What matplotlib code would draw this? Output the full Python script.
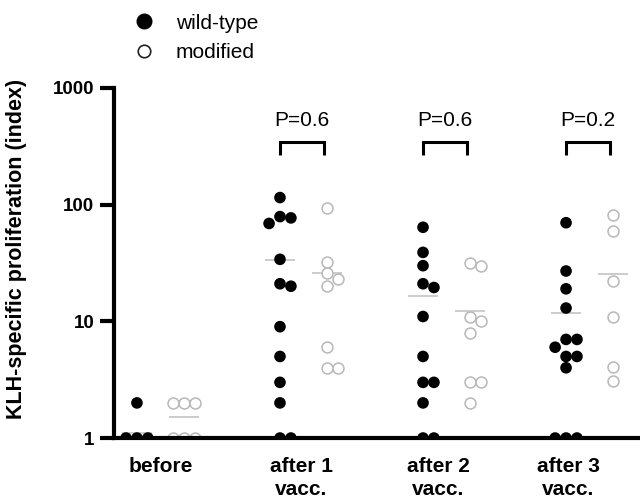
import numpy as np
import matplotlib
matplotlib.use("Agg")
import matplotlib.pyplot as plt
from matplotlib.lines import Line2D

plt.rcParams['font.family'] = ['Liberation Sans', 'DejaVu Sans']

# Data
groups = ['before', 'after 1\nvacc.', 'after 2\nvacc.', 'after 3\nvacc.']
wild_type = [
    [2, 1, 1, 1],
    [115, 79, 69, 77, 34, 20, 21, 9, 5, 3, 2, 1, 1],
    [64, 39, 30, 19.5, 21, 11, 5, 3, 3, 2, 1, 1],
    [70, 27, 19, 13, 7, 7, 6, 5, 5, 4, 1, 1, 1],
]
modified = [
    [2, 2, 2, 1, 1, 1],
    [94, 32, 23, 26, 20, 6, 4, 4],
    [30, 31.5, 10, 11, 8, 3, 3, 2],
    [82, 59, 22, 11, 4.1, 3.1],
]
wt_means = [1.1, 33.5, 16.5, 11.7]
mod_means = [1.5, 25.8, 12.3, 25.3]
p_values = [None, 'P=0.6', 'P=0.6', 'P=0.2']

fig = plt.figure(figsize=(6.4, 5.01), dpi=100)
ax = fig.add_axes([0.178, 0.1257, 0.822, 0.6987])
ax.set_yscale('log')
ax.set_ylim(1, 1000)
ax.set_xlim(-0.161, 3.517)

mod_shift = 0.33
grey = '#b8b8b8'
dot_px = 11.5


def swarm(vals, xc):
    # simple beeswarm in pixel space
    vals = np.asarray(vals, dtype=float)
    pts = ax.transData.transform(np.column_stack([np.full(len(vals), xc), vals]))
    ys = pts[:, 1]
    ppu = ax.transData.transform((1, 1))[0] - ax.transData.transform((0, 1))[0]
    placed = []
    out = np.zeros(len(vals))
    for idx in np.argsort(-vals, kind='stable'):
        py = ys[idx]
        for k in [0, 1, -1, 2, -2, 3, -3, 4, -4]:
            px = k * dot_px * 0.95
            if all((px - qx) ** 2 + (py - qy) ** 2 >= (0.9 * dot_px) ** 2 for qx, qy in placed):
                break
        placed.append((px, py))
        out[idx] = px / ppu
    return xc + out


for i in range(len(groups)):
    xw = i
    xm = i + mod_shift
    ax.hlines(wt_means[i], xw - 0.105, xw + 0.105, color='#c8c8c8', lw=1.3, zorder=1)
    ax.hlines(mod_means[i], xm - 0.105, xm + 0.105, color='#c8c8c8', lw=1.3, zorder=1)
    ax.scatter(swarm(wild_type[i], xw), wild_type[i], s=70, color='black',
               edgecolors='none', zorder=3)
    ax.scatter(swarm(modified[i], xm), modified[i], s=62, facecolors='white',
               edgecolors=grey, linewidths=1.1, zorder=3)
    if p_values[i]:
        ax.plot([xw, xw, xm - 0.02, xm - 0.02], [266, 346, 346, 266], color='black',
                lw=2.2, solid_capstyle='butt', solid_joinstyle='miter', clip_on=False)
        ax.text((xw + xm) / 2 - 0.01, 531, p_values[i], ha='center', va='center',
                fontsize=15)

for side in ['top', 'right']:
    ax.spines[side].set_visible(False)
for side in ['left', 'bottom']:
    ax.spines[side].set_linewidth(3)
    ax.spines[side].set_zorder(5)

ax.set_yticks([1, 10, 100, 1000])
ax.set_yticklabels(['1', '10', '100', '1000'], fontsize=13.5, fontweight='bold')
ax.yaxis.set_minor_locator(matplotlib.ticker.NullLocator())
ax.tick_params(axis='y', length=10, width=3, pad=4)
ax.set_xticks([0.168, 1.147, 2.105, 3.014])
ax.set_xticklabels(groups, fontsize=15, fontweight='bold', linespacing=1.25, va='top')
ax.tick_params(axis='x', length=0, pad=14)
ax.set_ylabel('KLH-specific proliferation (index)', fontsize=15.5, fontweight='bold')
ax.yaxis.set_label_coords(-0.165, 0.54)

handles = [
    Line2D([], [], marker='o', ls='none', markersize=10.5, color='black'),
    Line2D([], [], marker='o', ls='none', markersize=9, markerfacecolor='white',
           markeredgecolor='#222222', markeredgewidth=1.2),
]
fig.legend(handles, ['wild-type', 'modified'], loc='upper left',
           bbox_to_anchor=(0.172, 1.0), frameon=False, fontsize=15,
           handletextpad=0.5, labelspacing=0.5, borderaxespad=0.25)

fig.savefig('out.png', dpi=100)
